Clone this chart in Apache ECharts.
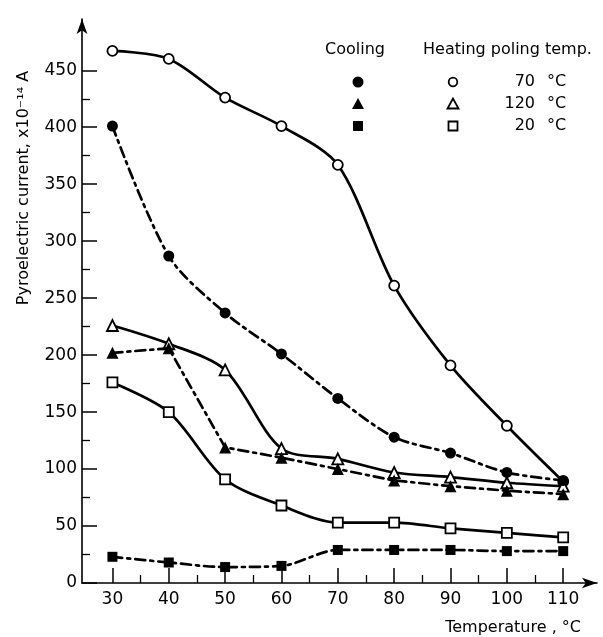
<!DOCTYPE html>
<html>
<head>
<meta charset="utf-8">
<script src="https://cdn.jsdelivr.net/npm/echarts@6.0.0/dist/echarts.min.js"></script>
<style>
html,body{margin:0;padding:0;background:#fff;}
#chart{width:603px;height:637px;}
</style>
</head>
<body>
<div id="chart"></div>
<script>
// ---- data ----
const temps = [30, 40, 50, 60, 70, 80, 90, 100, 110];
const heat70 = [467, 460, 426, 401, 367, 261, 191, 138, 89];
const cool70 = [401, 287, 237, 201, 162, 128, 114, 97, 90];
const heat120 = [226, 210, 187, 118, 109, 97, 93, 88, 85];
const cool120 = [202, 206, 119, 110, 100, 90, 85, 81, 78];
const heat20 = [176, 150, 91, 68, 53, 53, 48, 44, 40];
const cool20 = [23, 18, 14, 15, 29, 29, 29, 28, 28];
const xMajorTicks = [30, 40, 50, 60, 70, 80, 90, 100, 110];
const xMinorTicks = [35, 45, 55, 65, 75, 85, 95, 105];
const yMajorTicks = [0, 50, 100, 150, 200, 250, 300, 350, 400, 450];
const yMinorTicks = [25, 75, 125, 175, 225, 275, 325, 375, 425];
const legendNumbers = ['70', '120', '20'];
const legendUnit = '°C';
const xName = 'Temperature , °C';
const yName = 'Pyroelectric current, x10⁻¹⁴ A';

const FONT = 'DejaVu Sans';
const pairs = arr => temps.map((t, i) => [t, arr[i]]);
const dashDot = [10, 5, 3, 5];

const chart = echarts.init(document.getElementById('chart'), null, {renderer: 'canvas'});

function solid(name, data, symbol, size, smooth) {
  return {
    name, type: 'line', data: pairs(data), smooth: smooth,
    symbol, symbolSize: size, showSymbol: true,
    lineStyle: {color: '#000', width: 2.7},
    itemStyle: {color: '#fff', borderColor: '#000', borderWidth: 1.8},
    z: 2
  };
}
function dashed(name, data, symbol, size, smooth) {
  return {
    name, type: 'line', data: pairs(data), smooth: smooth,
    symbol, symbolSize: size, showSymbol: true,
    lineStyle: {color: '#000', width: 2.7, type: dashDot, cap: 'round'},
    itemStyle: {color: '#000', borderColor: '#000', borderWidth: 0},
    z: 3
  };
}

const axisLineStyle = {color: '#000', width: 1.6};

const rowY = [82, 104, 126];
const graphic = [
  {type: 'text', left: 325, top: 42, style: {text: 'Cooling', font: '16px "' + FONT + '"', fill: '#000'}},
  {type: 'text', left: 423, top: 42, style: {text: 'Heating poling temp.', font: '16px "' + FONT + '"', fill: '#000'}},
  // filled markers
  {type: 'circle', shape: {cx: 358, cy: rowY[0], r: 5.5}, style: {fill: '#000'}},
  {type: 'polygon', shape: {points: [[358, rowY[1] - 6], [352, rowY[1] + 5], [364, rowY[1] + 5]]}, style: {fill: '#000'}},
  {type: 'rect', shape: {x: 353, y: rowY[2] - 5, width: 10, height: 10}, style: {fill: '#000'}},
  // open markers
  {type: 'circle', shape: {cx: 453, cy: rowY[0], r: 4.3}, style: {fill: '#fff', stroke: '#000', lineWidth: 1.8}},
  {type: 'polygon', shape: {points: [[453, rowY[1] - 5.5], [447.5, rowY[1] + 4.5], [458.5, rowY[1] + 4.5]]}, style: {fill: '#fff', stroke: '#000', lineWidth: 1.8}},
  {type: 'rect', shape: {x: 448.5, y: rowY[2] - 4.5, width: 9, height: 9}, style: {fill: '#fff', stroke: '#000', lineWidth: 1.8}},
  // y axis name
  {type: 'text', x: 24, y: 188, rotation: Math.PI / 2,
    style: {text: yName, font: '16px "' + FONT + '"', fill: '#000', align: 'center', verticalAlign: 'middle'}},
  // x axis name
  {type: 'text', x: 581, y: 628,
    style: {text: xName, font: '16px "' + FONT + '"', fill: '#000', align: 'right', verticalAlign: 'middle'}}
];
legendNumbers.forEach((n, i) => {
  graphic.push({type: 'text', x: 535, y: rowY[i], style: {text: n, font: '16px "' + FONT + '"', fill: '#000', align: 'right', verticalAlign: 'middle'}});
  graphic.push({type: 'text', x: 547, y: rowY[i], style: {text: legendUnit, font: '16px "' + FONT + '"', fill: '#000', align: 'left', verticalAlign: 'middle'}});
});

const option = {
  backgroundColor: '#fff',
  animation: false,
  grid: {left: 82, right: 6, top: 19, bottom: 54, containLabel: false},
  xAxis: [
    {
      type: 'value', min: 24.6, max: 116, position: 'bottom',
      axisLine: {show: true, onZero: false, lineStyle: axisLineStyle, symbol: ['none', 'arrow'], symbolSize: [8, 15]},
      axisTick: {show: true, inside: true, length: 15, customValues: xMajorTicks, lineStyle: {color: '#000', width: 1.5}},
      axisLabel: {show: true, customValues: xMajorTicks, margin: 8, color: '#000', fontSize: 17, fontFamily: FONT},
      splitLine: {show: false}
    },
    {
      type: 'value', min: 24.6, max: 116, position: 'bottom',
      axisLine: {show: false},
      axisTick: {show: true, inside: true, length: 8, customValues: xMinorTicks, lineStyle: {color: '#000', width: 1.3}},
      axisLabel: {show: false, customValues: xMinorTicks},
      splitLine: {show: false}
    }
  ],
  yAxis: [
    {
      type: 'value', min: 0, max: 495, position: 'left',
      axisLine: {show: true, onZero: false, lineStyle: axisLineStyle, symbol: ['none', 'arrow'], symbolSize: [8, 15]},
      axisTick: {show: true, inside: true, length: 15, customValues: yMajorTicks, lineStyle: {color: '#000', width: 1.5}},
      axisLabel: {show: true, customValues: yMajorTicks, margin: 5, color: '#000', fontSize: 17, fontFamily: FONT},
      splitLine: {show: false}
    },
    {
      type: 'value', min: 0, max: 495, position: 'left',
      axisLine: {show: false},
      axisTick: {show: true, inside: true, length: 8, customValues: yMinorTicks, lineStyle: {color: '#000', width: 1.3}},
      axisLabel: {show: false, customValues: yMinorTicks},
      splitLine: {show: false}
    }
  ],
  graphic,
  series: [
    solid('Heating 70 °C', heat70, 'circle', 10, 0.3),
    solid('Heating 120 °C', heat120, 'triangle', 11, 0.3),
    solid('Heating 20 °C', heat20, 'rect', 10, 0.3),
    dashed('Cooling 70 °C', cool70, 'circle', 11, 0.3),
    dashed('Cooling 120 °C', cool120, 'triangle', 12, false),
    dashed('Cooling 20 °C', cool20, 'rect', 10, 0.3)
  ]
};
chart.setOption(option);
</script>
</body>
</html>
